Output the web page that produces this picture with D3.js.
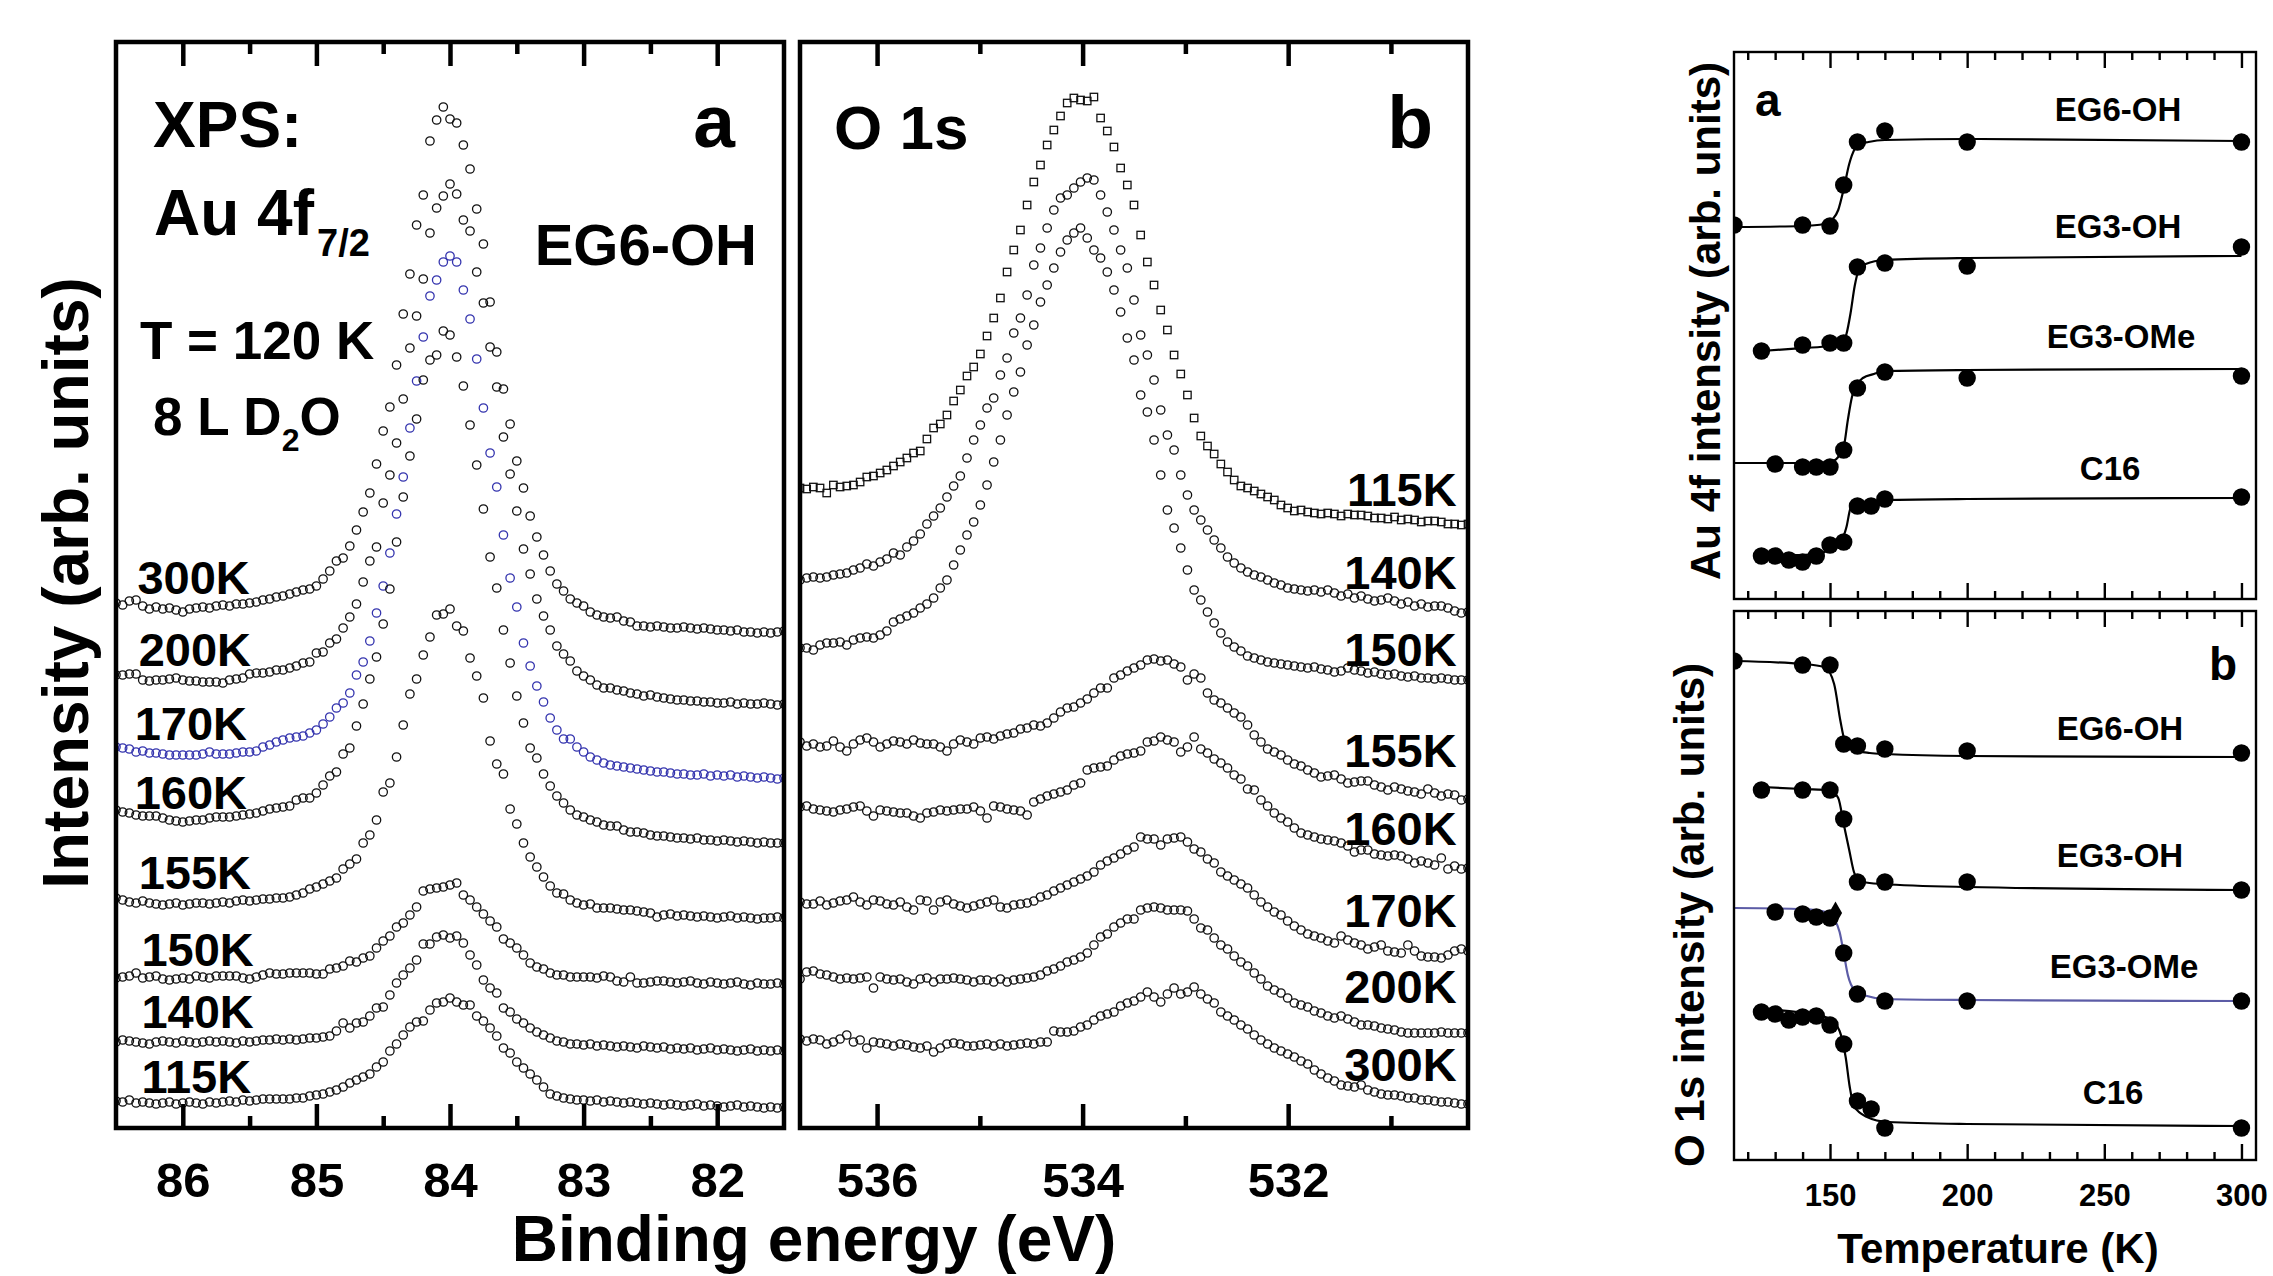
<!DOCTYPE html>
<html><head><meta charset="utf-8">
<script src="https://cdn.jsdelivr.net/npm/d3@7"></script>
<style>
body{margin:0;background:#fff;}
svg{display:block;}
text{font-family:"Liberation Sans",Arial,Helvetica,sans-serif;font-weight:bold;fill:#000;}
</style>
</head><body>
<script>
// ---------------- DATA: Au 4f7/2 spectra (panel a) ----------------
const auEnergy = [86.5,86.45,86.4,86.35,86.3,86.25,86.2,86.15,86.1,86.05,
86,85.95,85.9,85.85,85.8,85.75,85.7,85.65,85.6,85.55,
85.5,85.45,85.4,85.35,85.3,85.25,85.2,85.15,85.1,85.05,
85,84.95,84.9,84.85,84.8,84.75,84.7,84.65,84.6,84.55,
84.5,84.45,84.4,84.35,84.3,84.25,84.2,84.15,84.1,84.05,
84,83.95,83.9,83.85,83.8,83.75,83.7,83.65,83.6,83.55,
83.5,83.45,83.4,83.35,83.3,83.25,83.2,83.15,83.1,83.05,
83,82.95,82.9,82.85,82.8,82.75,82.7,82.65,82.6,82.55,
82.5,82.45,82.4,82.35,82.3,82.25,82.2,82.15,82.1,82.05,
82,81.95,81.9,81.85,81.8,81.75,81.7,81.65,81.6,81.55,81.5];
const auTemps = ["300K","200K","170K","160K","155K","150K","140K","115K"];
const au300 = [525,523,527,528,522,519,521,519,520,518,516,519,520,521,520,522,523,522,524,524,
525,526,528,529,531,532,534,536,538,539,542,549,557,567,570,582,598,616,635,664,
697,721,763,814,854,903,933,987,1008,1021,1009,1005,983,959,919,884,826,776,739,704,
667,640,612,591,573,557,544,537,529,525,522,516,513,511,510,511,507,506,502,502,
501,502,501,500,500,501,500,499,500,499,498,498,497,498,496,496,495,496,495,496,497];
const au200 = [453,453,454,454,448,447,448,448,449,450,448,447,447,446,446,446,445,448,449,450,454,455,455,456,458,
458,460,462,465,466,475,476,485,489,500,511,524,546,567,581,625,653,685,729,780,812,849,895,920,932,
944,934,908,897,856,825,781,741,691,654,617,579,554,529,512,498,482,474,467,457,452,448,443,440,440,
438,437,435,434,432,433,431,430,429,428,428,427,427,426,426,425,425,426,424,425,424,424,425,424,423,424];
const au170 = [381,380,379,376,377,375,375,374,373,373,373,373,373,374,376,374,374,374,375,376,376,377,381,383,
386,388,390,391,392,395,398,404,411,420,425,435,453,466,487,515,542,575,614,651,700,747,791,832,848,866,
872,866,838,809,769,720,675,641,593,550,521,485,462,442,426,410,398,389,389,381,376,371,368,365,363,
362,361,360,359,358,357,356,356,355,354,354,353,353,354,352,353,352,353,351,352,351,350,351,350,349,350];
const au160 = [318,316,315,313,312,312,312,310,308,307,306,307,308,308,310,311,311,311,312,313,314,315,317,319,320,
321,322,328,330,330,335,343,352,356,374,380,402,424,449,471,504,539,586,631,672,709,748,768,773,797,
793,771,742,703,663,619,571,540,498,465,432,405,380,370,354,342,332,325,318,313,311,308,306,303,302,
302,298,296,296,295,293,292,292,291,290,290,289,290,288,288,287,288,287,286,287,286,285,286,285,285,285];
const au155 = [230,228,226,225,227,225,224,223,224,225,223,224,225,225,224,225,226,225,227,228,227,228,229,229,230,
230,231,233,235,239,241,244,247,250,259,264,269,285,293,308,336,345,371,403,434,449,473,491,513,514,
519,502,497,470,452,430,387,364,354,319,304,285,271,261,251,242,235,234,228,225,223,224,220,220,220,
219,218,218,217,216,215,211,213,214,212,213,212,211,212,211,210,211,212,210,211,210,209,210,210,211,210];
const au150 = [150,151,152,155,150,151,152,149,148,149,150,149,152,151,150,152,152,152,152,150,149,151,153,155,154,
154,155,155,155,155,154,154,159,160,162,167,166,170,172,180,187,192,201,205,213,221,237,239,240,241,
243,245,233,228,221,214,207,201,189,185,180,173,165,161,159,155,153,153,151,151,151,151,150,152,151,
147,146,151,145,145,146,147,147,146,145,146,147,145,144,146,145,144,145,146,144,143,145,144,144,145,144];
const au140 = [86,88,87,86,85,84,86,87,86,85,87,86,85,86,87,86,87,86,85,87,86,87,88,88,89,
88,89,88,89,90,90,91,92,97,105,100,105,106,112,120,121,133,145,153,160,168,184,184,191,193,
190,192,185,173,163,148,140,135,120,116,109,105,100,96,93,90,87,86,84,84,83,84,82,83,82,
81,82,81,80,82,81,80,81,79,80,79,80,78,79,80,78,79,78,77,78,79,77,78,77,78,77];
const au115 = [27,26,28,25,26,25,24,25,26,24,25,26,25,24,26,25,26,27,26,28,27,28,29,29,29,
29,29,30,30,32,33,34,36,38,41,45,48,51,54,61,66,77,84,93,101,106,107,118,125,126,
130,126,123,123,112,107,100,92,80,75,66,60,54,48,41,34,32,30,29,28,28,27,28,26,27,
26,25,26,25,24,25,24,23,24,23,22,23,24,22,23,22,21,22,23,21,22,21,20,21,20,21];
const auMajorTicks = [86,85,84,83,82];
const auMinorTicks = [85.5,84.5,83.5,82.5];

// ---------------- DATA: O 1s spectra (panel b) ----------------
const oEnergy = [536.75,536.685,536.62,536.555,536.49,536.425,536.36,536.295,536.23,536.165,
536.1,536.035,535.97,535.905,535.84,535.775,535.71,535.645,535.58,535.515,
535.45,535.385,535.32,535.255,535.19,535.125,535.06,534.995,534.93,534.865,
534.8,534.735,534.67,534.605,534.54,534.475,534.41,534.345,534.28,534.215,
534.15,534.085,534.02,533.955,533.89,533.825,533.76,533.695,533.63,533.565,
533.5,533.435,533.37,533.305,533.24,533.175,533.11,533.045,532.98,532.915,
532.85,532.785,532.72,532.655,532.59,532.525,532.46,532.395,532.33,532.265,
532.2,532.135,532.07,532.005,531.94,531.875,531.81,531.745,531.68,531.615,
531.55,531.485,531.42,531.355,531.29,531.225,531.16,531.095,531.03,530.965,
530.9,530.835,530.77,530.705,530.64,530.575,530.51,530.445,530.38,530.315,530.25];
const oTemps = ["115K","140K","150K","155K","160K","170K","200K","300K"];
const o115 = [640,639,641,640,635,643,641,642,643,646,651,652,655,658,662,666,670,675,677,689,700,704,713,727,738,
752,761,774,792,810,830,856,878,898,923,946,963,983,998,1012,1025,1030,1028,1027,1031,1010,997,981,960,943,
923,893,866,843,818,798,773,754,733,710,692,682,674,664,656,648,642,640,637,634,631,628,623,620,617,
618,616,615,614,615,614,612,614,613,613,612,610,610,609,611,608,609,608,606,607,607,606,604,604,603,604];
const o140 = [548,550,551,550,551,553,554,555,558,560,564,562,566,569,575,573,581,587,594,604,612,620,631,642,652,
670,688,703,720,730,753,770,795,810,833,863,880,900,918,930,933,940,946,950,948,933,916,898,878,860,
828,793,773,748,718,693,678,653,633,618,608,598,588,580,571,565,560,556,553,551,548,545,543,540,539,
538,537,538,536,538,535,532,534,530,532,529,527,528,530,527,524,526,522,524,521,522,522,520,517,515,516];
const o150 = [480,480,478,483,485,485,486,483,488,490,491,490,493,497,506,509,512,515,520,524,530,540,548,563,578,
593,606,623,643,666,688,713,736,756,783,803,826,843,860,876,888,895,900,890,878,870,856,838,816,790,
768,733,716,688,653,618,600,580,558,538,528,516,505,495,486,481,477,472,470,468,466,465,464,463,462,
461,460,461,459,458,456,457,460,458,457,455,456,454,453,454,452,451,452,450,450,449,450,449,448,448,448];
const o155 = [386,382,384,381,382,387,381,377,384,388,390,386,381,384,387,386,384,388,385,384,384,381,377,384,388,
386,384,390,391,389,392,394,395,399,400,403,402,405,410,416,420,421,425,429,435,440,440,450,453,457,
460,463,468,469,467,468,464,461,448,454,450,435,428,425,420,415,411,403,393,386,379,376,373,368,364,
362,358,355,351,352,353,349,345,346,347,347,343,341,338,341,339,337,336,334,339,335,332,334,333,328,329];
const o160 = [321,322,319,318,317,316,318,319,321,322,317,312,318,317,316,315,315,312,310,315,316,318,317,318,319,
319,321,317,310,322,321,319,318,317,313,326,329,332,334,336,338,343,345,358,360,361,362,368,372,374,
375,377,386,387,391,388,386,376,381,391,379,375,369,365,360,353,349,339,338,328,322,315,310,306,300,
295,293,291,289,288,287,285,282,276,278,278,274,273,272,273,272,269,265,267,265,263,270,259,262,259,260];
const o170 = [226,224,224,227,223,225,227,228,231,226,223,228,227,224,223,226,221,218,228,227,218,226,228,224,222,
220,222,224,226,228,221,220,223,224,225,227,231,233,237,240,243,246,249,252,256,263,267,270,274,278,
281,291,289,289,283,289,290,291,286,279,276,269,265,256,252,248,244,240,233,226,221,216,213,207,202,
198,194,192,190,187,185,192,188,185,183,179,181,183,177,176,175,183,177,172,171,171,170,173,177,179,177];
const o200 = [149,156,157,154,153,151,149,150,149,150,151,140,151,149,148,149,146,144,149,150,146,149,149,150,149,
148,146,148,148,146,149,146,148,149,150,151,153,157,159,162,166,168,171,175,183,191,194,201,205,209,
209,218,220,221,220,218,218,218,217,209,200,198,190,183,179,172,166,162,155,149,142,138,135,130,125,
123,121,117,115,112,110,112,109,106,103,103,102,100,99,98,96,95,95,95,95,95,96,95,95,95,95];
const o300 = [89,87,89,88,84,86,89,93,86,88,80,86,85,84,82,84,83,81,80,82,76,80,84,85,84,
82,82,83,84,82,84,82,83,84,85,84,86,86,97,96,96,97,101,103,108,112,114,116,122,125,
127,131,136,131,126,134,140,134,136,141,134,129,125,116,112,108,103,99,93,88,84,80,77,74,71,
67,64,58,54,50,47,43,42,41,43,38,36,34,33,33,32,30,30,28,28,27,26,26,25,24,24];
const oMajorTicks = [536,534,532];
const oMinorTicks = [535,533,531];

// ---------------- DATA: intensity vs temperature ----------------
const tMajorTicks = [150,200,250,300];
const tMinorTicks = [120,130,140,160,170,180,190,210,220,230,240,260,270,280,290];
const monolayers = ["EG6-OH","EG3-OH","EG3-OMe","C16"];
// Au 4f intensity (panel a, right)
const auT_EG6OH = [115,140,150,155,160,170,200,300];
const auV_EG6OH = [374,374,373,414,457,468,457,457];
const auT_EG3OH = [125,140,150,155,160,170,200,300];
const auV_EG3OH = [248,254,256,256,332,336,333,352];
const auT_EG3OMe = [130,140,145,150,155,160,170,200,300];
const auV_EG3OMe = [135,132,132,132,149,211,227,221,223];
const auT_C16 = [125,130,135,140,145,150,155,160,165,170,300];
const auV_C16 = [43,43,39,37,43,54,57,93,93,100,102];
const auFitT_EG6OH = [115,140,148,151,153,155,157,159,161,164,170,200,300];
const auFitV_EG6OH = [372,373,375,380,389,410,435,450,455,457,459,460,458];
const auFitT_EG3OH = [125,140,150,154,156,157.5,159,160.5,163,170,200,300];
const auFitV_EG3OH = [248,251,253,255,265,286,313,329,335,339,341,343];
const auFitT_EG3OMe = [115,140,150,153,155,156.5,158,159.5,162,166,170,200,300];
const auFitV_EG3OMe = [136,136,137,142,152,179,202,213,221,225,228,229,230];
const auFitT_C16 = [125,140,148,152,154,156,157.5,159,162,170,200,300];
const auFitV_C16 = [44,44,47,52,57,72,91,95,96,99,100,101];
// O 1s intensity (panel b, right)
const oT_EG6OH = [115,140,150,155,160,170,200,300];
const oV_EG6OH = [499,495,495,416,414,411,409,407];
const oT_EG3OH = [125,140,150,155,160,170,200,300];
const oV_EG3OH = [370,370,370,341,278,278,278,270];
const oT_EG3OMe = [130,140,145,150,155,160,170,200,300];
const oV_EG3OMe = [248,246,243,242,207,166,159,159,159];
const oT_C16 = [125,130,135,140,145,150,155,160,165,170,300];
const oV_C16 = [148,146,140,143,144,135,116,59,51,32,32];
const oDiamondT = [152];
const oDiamondV = [247];
const oFitT_EG6OH = [115,140,148,151.5,153.8,155.3,158.5,164.5,170,200,300];
const oFitV_EG6OH = [499,496,493,476,439,420,410,407,406,404,403];
const oFitT_EG3OH = [125,140,150,153,155,157,159,162,169,200,300];
const oFitV_EG3OH = [373,371,370,362,336,310,286,278,276,273,270];
const oFitT_EG3OMe = [115,140,148.5,151.5,153.5,155,156.5,159,163.5,170,200,300];
const oFitV_EG3OMe = [252,251,248,241,228,207,185,170,164,161,160,159];
const oFitT_C16 = [125,145,150,153.5,155.7,157.2,158.7,163.5,171,200,300];
const oFitV_C16 = [151,145,141,129,103,73,54,43,38,36,34];

// ---------------- LAYOUT ----------------
const W = 2273, H = 1276;
const svg = d3.select("body").append("svg").attr("width", W).attr("height", H);
const defs = svg.append("defs");

const pA = {x0:116, x1:784, y0:42, y1:1128};
const pB = {x0:800, x1:1468, y0:42, y1:1128};
const pT = {x0:1734, x1:2256, y0:52, y1:599};
const pU = {x0:1734, x1:2256, y0:611, y1:1160};

const xA = d3.scaleLinear().domain([86.5, 81.5]).range([pA.x0, pA.x1]);
const xB = d3.scaleLinear().domain([536.75, 530.25]).range([pB.x0, pB.x1]);
const yS = d3.scaleLinear().domain([0, 1086]).range([pA.y1, pA.y0]);
const xT = d3.scaleLinear().domain([115, 305.3]).range([pT.x0, pT.x1]);
const yT = d3.scaleLinear().domain([0, 547]).range([pT.y1, pT.y0]);
const yU = d3.scaleLinear().domain([0, 549]).range([pU.y1, pU.y0]);

function makeClip(id, p){
  defs.append("clipPath").attr("id", id).append("rect")
    .attr("x", p.x0).attr("y", p.y0).attr("width", p.x1 - p.x0).attr("height", p.y1 - p.y0);
}
makeClip("clipA", pA); makeClip("clipB", pB); makeClip("clipT", pT); makeClip("clipU", pU);

const BLUE = "#3434ae";

// ---------- spectra ----------
function drawSpectra(clipId, energies, series, x, y){
  const g = svg.append("g").attr("clip-path", `url(#${clipId})`);
  series.forEach(s => {
    const pts = energies.map((e, i) => [e, s.values[i]]);
    const sg = g.append("g");
    if (s.shape === "square") {
      sg.selectAll("rect").data(pts).join("rect")
        .attr("x", d => x(d[0]) - 3.7).attr("y", d => y(d[1]) - 3.7)
        .attr("width", 7.4).attr("height", 7.4)
        .attr("fill", "none").attr("stroke", s.color).attr("stroke-width", 1.3);
    } else {
      sg.selectAll("circle").data(pts).join("circle")
        .attr("cx", d => x(d[0])).attr("cy", d => y(d[1])).attr("r", 4.2)
        .attr("fill", "none").attr("stroke", s.color).attr("stroke-width", 1.3);
    }
  });
}
const auValues = [au300, au200, au170, au160, au155, au150, au140, au115];
drawSpectra("clipA", auEnergy, auTemps.map((t, i) => ({label:t, values:auValues[i], color: t === "170K" ? BLUE : "#111"})), xA, yS);
const oValues = [o115, o140, o150, o155, o160, o170, o200, o300];
drawSpectra("clipB", oEnergy, oTemps.map((t, i) => ({label:t, values:oValues[i], color:"#111", shape: t === "115K" ? "square" : "circle"})), xB, yS);

// ---------- frames & ticks ----------
function panelAxes(p, x, major, minor, sw, majLen, minLen, labelSize, labelOffset, showLabels){
  const g = svg.append("g");
  const mk = (axis, ty, vals, len, lab) => {
    const a = g.append("g").attr("transform", `translate(0,${ty})`)
      .call(axis(x).tickValues(vals).tickSize(-len).tickFormat(lab ? d3.format("d") : ""));
    a.select(".domain").remove();
    a.selectAll("line").attr("stroke", "#000").attr("stroke-width", sw);
    a.selectAll("text").attr("font-size", labelSize).attr("y", labelOffset).attr("dy", null)
      .style("font-family", '"Liberation Sans",Arial,sans-serif').style("font-weight", "bold").attr("fill", "#000");
  };
  mk(d3.axisBottom, p.y1, major, majLen, showLabels);
  mk(d3.axisBottom, p.y1, minor, minLen, false);
  mk(d3.axisTop, p.y0, major, majLen, false);
  mk(d3.axisTop, p.y0, minor, minLen, false);
  g.append("rect").attr("x", p.x0).attr("y", p.y0).attr("width", p.x1 - p.x0).attr("height", p.y1 - p.y0)
    .attr("fill", "none").attr("stroke", "#000").attr("stroke-width", sw);
}
panelAxes(pA, xA, auMajorTicks, auMinorTicks, 4.5, 24, 12, 49, 69, true);
panelAxes(pB, xB, oMajorTicks, oMinorTicks, 4.5, 24, 12, 49, 69, true);

// ---------- spectra labels ----------
function txt(x, y, s, size, anchor){
  return svg.append("text").attr("x", x).attr("y", y).attr("font-size", size)
    .attr("text-anchor", anchor || "start").text(s);
}
const auLabelAt = [[86.34,534],[86.33,462],[86.36,388],[86.36,319],[86.33,239],[86.31,162],[86.31,100],[86.31,35]];
auTemps.forEach((t, i) => txt(xA(auLabelAt[i][0]), yS(auLabelAt[i][1]), t, 47));
const oLabelAt = [[530.36,622],[530.36,539],[530.36,462],[530.36,361],[530.36,283],[530.36,201],[530.36,125],[530.36,47]];
oTemps.forEach((t, i) => txt(xB(oLabelAt[i][0]), yS(oLabelAt[i][1]), t, 47, "end"));

txt(153, 147, "XPS:", 64);
const au = txt(154, 235, "Au 4f", 64);
au.append("tspan").attr("font-size", 38).attr("dx", 3).attr("dy", 21).text("7/2");
txt(140, 359, "T = 120 K", 53);
const d2o = txt(153, 435, "8 L D", 53);
d2o.append("tspan").attr("font-size", 32).attr("dy", 16).text("2");
d2o.append("tspan").attr("dy", -16).text("O");
txt(757, 265, "EG6-OH", 58, "end");
txt(735, 147, "a", 75, "end");
txt(834, 149, "O 1s", 62);
txt(1433, 148, "b", 75, "end");

txt(814, 1261, "Binding energy (eV)", 64, "middle");
svg.append("text").attr("transform", "translate(88,583) rotate(-90)").attr("font-size", 64)
  .attr("text-anchor", "middle").text("Intensity (arb. units)");

// ---------- right-hand plots ----------
const line = (x, y) => d3.line().x(d => x(d[0])).y(d => y(d[1])).curve(d3.curveMonotoneX);
function tempPlot(clipId, p, y, sets){
  const g = svg.append("g").attr("clip-path", `url(#${clipId})`);
  sets.forEach(s => {
    g.append("path").datum(s.fitT.map((t, i) => [t, s.fitV[i]]))
      .attr("d", line(xT, y)).attr("fill", "none").attr("stroke", s.lineColor || "#000").attr("stroke-width", 2.2);
  });
  sets.forEach(s => {
    g.append("g").selectAll("circle").data(s.T.map((t, i) => [t, s.V[i]])).join("circle")
      .attr("cx", d => xT(d[0])).attr("cy", d => y(d[1])).attr("r", 8.7).attr("fill", "#000");
  });
  return g;
}
const topSets = [
  {T:auT_EG6OH, V:auV_EG6OH, fitT:auFitT_EG6OH, fitV:auFitV_EG6OH},
  {T:auT_EG3OH, V:auV_EG3OH, fitT:auFitT_EG3OH, fitV:auFitV_EG3OH},
  {T:auT_EG3OMe, V:auV_EG3OMe, fitT:auFitT_EG3OMe, fitV:auFitV_EG3OMe},
  {T:auT_C16, V:auV_C16, fitT:auFitT_C16, fitV:auFitV_C16}
];
const botSets = [
  {T:oT_EG6OH, V:oV_EG6OH, fitT:oFitT_EG6OH, fitV:oFitV_EG6OH},
  {T:oT_EG3OH, V:oV_EG3OH, fitT:oFitT_EG3OH, fitV:oFitV_EG3OH},
  {T:oT_EG3OMe, V:oV_EG3OMe, fitT:oFitT_EG3OMe, fitV:oFitV_EG3OMe, lineColor:"#5c5ca6"},
  {T:oT_C16, V:oV_C16, fitT:oFitT_C16, fitV:oFitV_C16}
];
tempPlot("clipT", pT, yT, topSets);
const gU = tempPlot("clipU", pU, yU, botSets);
gU.selectAll("path.diamond").data(oDiamondT.map((t, i) => [t, oDiamondV[i]])).join("path")
  .attr("class", "diamond").attr("d", d3.symbol(d3.symbolDiamond).size(150))
  .attr("transform", d => `translate(${xT(d[0])},${yU(d[1])})`).attr("fill", "#000");

panelAxes(pT, xT, tMajorTicks, tMinorTicks, 2.4, 16, 8, 31, 46, false);
panelAxes(pU, xT, tMajorTicks, tMinorTicks, 2.4, 16, 8, 31, 46, true);

const topLabelAt = [[255,478],[255,361],[256.1,251],[252.1,119]];
monolayers.forEach((m, i) => txt(xT(topLabelAt[i][0]), yT(topLabelAt[i][1]), m, 33, "middle"));
const botLabelAt = [[255.7,420],[255.7,293],[257.2,182],[253.2,56]];
monolayers.forEach((m, i) => txt(xT(botLabelAt[i][0]), yU(botLabelAt[i][1]), m, 33, "middle"));
txt(1755, 116, "a", 46);
txt(2237, 680, "b", 46, "end");
txt(1998, 1263, "Temperature (K)", 42, "middle");
svg.append("text").attr("transform", "translate(1720,321) rotate(-90)").attr("font-size", 42)
  .attr("text-anchor", "middle").text("Au 4f intensity (arb. units)");
svg.append("text").attr("transform", "translate(1704,915) rotate(-90)").attr("font-size", 42)
  .attr("text-anchor", "middle").text("O 1s intensity (arb. units)");
</script>
</body></html>
